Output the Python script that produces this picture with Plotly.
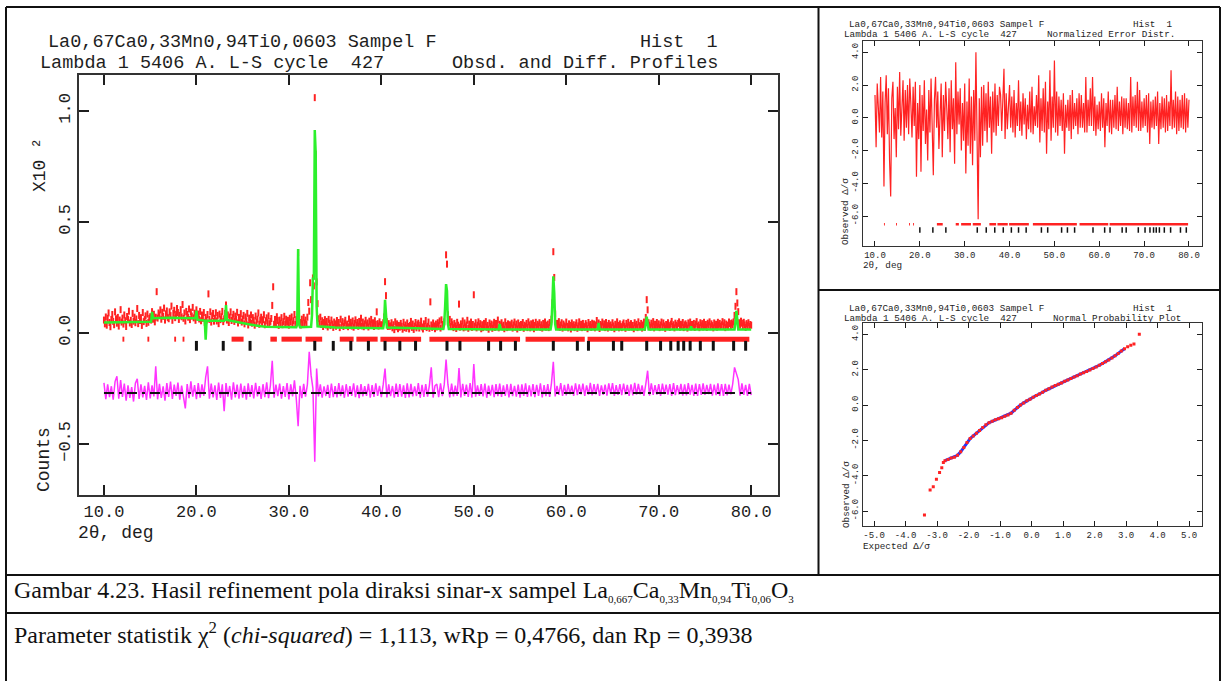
import plotly.graph_objects as go

W, H = 1223, 681

# ------------------------------------------------------------------ data
# Main panel (units of the plotted axis, x10^2 counts, stored in thousandths)
obs_start, obs_step = 10.0, 0.1
obs_milli = [
    58, 41, 72, 35, 66, 90, 47, 28, 61, 83,      # 10
    52, 37, 95, 64, 44, 70, 31, 58, 105, 49,     # 11
    67, 40, 81, 55, 29, 74, 62, 98, 45, 57,      # 12
    38, 88, 53, 71, 46, 63, 110, 42, 79, 56,     # 13
    69, 34, 92, 51, 60, 77, 43, 85, 48, 66,      # 14
    73, 58, 96, 62, 84, 50, 71, 186, 67, 90,     # 15
    81, 104, 62, 93, 75, 112, 58, 86, 99, 70,    # 16
    64, 95, 78, 121, 57, 88, 102, 69, 84, 110,   # 17
    92, 61, 79, 105, 73, 128, 66, 90, 54, 97,    # 18
    83, 71, 108, 60, 94, 76, 115, 68, 89, 57,    # 19
    104, 72, 85, 63, 97, 55, 81, 66, 92, 48,     # 20
    70, 58, 83, 176, 61, 95, 49, 77, 88, 53,     # 21
    66, 91, 54, 79, 42, 85, 60, 73, 97, 51,      # 22
    64, 88, 126, 58, 81, 47, 72, 95, 56, 69,     # 23
    84, 52, 76, 61, 93, 45, 70, 58, 87, 49,      # 24
    63, 79, 41, 72, 55, 88, 36, 67, 50, 81,      # 25
    44, 69, 57, 35, 76, 48, 62, 90, 39, 58,      # 26
    71, 43, 60, 82, 37, 55, 68, 46, 77, 41,      # 27
    52, 65, 124, 208, 39, 61, 47, 73, 56, 34,    # 28
    58, 43, 69, 37, 51, 75, 40, 62, 48, 57,      # 29
    35, 66, 49, 72, 41, 55, 83, 38, 60, 46,      # 30
    362, 88, 47, 36, 62, 41, 70, 45, 58, 39,     # 31
    71, 137, 98, 226, 150, 118, 248, 212, 1060, 805,  # 32
    230, 132, 64, 42, 71, 38, 55, 29, 47, 60,    # 33
    36, 52, 27, 61, 44, 33, 58, 40, 25, 49,      # 34
    41, 30, 56, 38, 47, 24, 62, 35, 51, 29,      # 35
    45, 57, 33, 40, 28, 63, 37, 48, 31, 54,      # 36
    26, 43, 59, 35, 47, 30, 52, 38, 66, 32,      # 37
    49, 28, 41, 57, 36, 45, 27, 53, 39, 61,      # 38
    34, 46, 29, 55, 38, 95, 42, 31, 50, 36,      # 39
    37, 33, 46, 72, 231, 168, 51, 29, 42, 30,    # 40
    32, 46, 23, 37, 15, 50, 28, 41, 19, 34,      # 41
    26, 43, 30, 17, 48, 24, 36, 21, 45, 29,      # 42
    18, 34, 52, 25, 40, 16, 31, 47, 23, 37,      # 43
    44, 22, 35, 53, 27, 18, 41, 29, 56, 24,      # 44
    30, 49, 21, 140, 36, 25, 45, 32, 19, 40,     # 45
    27, 46, 33, 54, 22, 59, 38, 31, 50, 118,     # 46
    352, 310, 82, 46, 61, 29, 50, 37, 24, 43,    # 47
    32, 20, 48, 35, 130, 26, 41, 29, 54, 23,     # 48
    45, 27, 36, 57, 21, 40, 32, 49, 25, 38,      # 49
    172, 31, 46, 23, 35, 50, 28, 42, 19, 37,     # 50
    24, 43, 30, 51, 26, 34, 17, 45, 29, 40,      # 51
    21, 36, 48, 25, 43, 30, 58, 23, 39, 32,      # 52
    46, 27, 35, 19, 50, 33, 24, 41, 28, 37,      # 53
    31, 44, 22, 36, 49, 26, 40, 18, 45, 33,      # 54
    25, 38, 32, 47, 21, 35, 29, 43, 24, 50,      # 55
    36, 23, 41, 30, 45, 19, 34, 48, 27, 39,      # 56
    32, 46, 25, 37, 22, 43, 31, 49, 26, 35,      # 57
    40, 24, 47, 33, 62, 136, 366, 250, 86, 34,   # 58
    43, 28, 51, 25, 36, 46, 22, 40, 32, 27,      # 59
    49, 30, 23, 41, 34, 18, 45, 29, 37, 24,      # 60
    35, 46, 21, 32, 50, 27, 39, 24, 43, 30,      # 61
    26, 42, 33, 19, 47, 31, 38, 25, 44, 34,      # 62
    40, 23, 36, 56, 29, 45, 20, 38, 32, 49,      # 63
    28, 41, 24, 47, 33, 22, 43, 30, 36, 25,      # 64
    46, 32, 19, 39, 27, 50, 34, 23, 41, 29,      # 65
    24, 37, 45, 30, 21, 43, 28, 48, 26, 35,      # 66
    42, 27, 34, 19, 46, 31, 39, 24, 50, 33,      # 67
    29, 43, 22, 36, 49, 25, 70, 150, 104, 46,    # 68
    35, 26, 44, 30, 51, 23, 39, 32, 47, 28,      # 69
    41, 24, 36, 49, 27, 45, 32, 21, 38, 30,      # 70
    46, 33, 25, 40, 52, 29, 37, 23, 44, 35,      # 71
    28, 43, 50, 26, 39, 32, 47, 24, 36, 41,      # 72
    33, 22, 45, 31, 49, 27, 38, 34, 43, 25,      # 73
    40, 51, 29, 36, 24, 46, 32, 42, 27, 48,      # 74
    31, 38, 25, 44, 35, 50, 28, 41, 33, 23,      # 75
    45, 30, 39, 26, 48, 34, 43, 29, 37, 51,      # 76
    32, 46, 24, 40, 35, 28, 49, 42, 31, 45,      # 77
    38, 50, 79, 120, 186, 135, 96, 46, 35, 53,   # 78
    44, 31, 48, 36, 25, 42, 33, 46, 29, 38,      # 79
    35,                                          # 80
]

calc_x = [10.0, 15.0, 15.1, 15.2, 15.3, 17.0, 19.5, 19.9, 20.0, 20.1, 20.9, 21.0, 21.1,
          23.0, 23.1, 23.2, 23.3, 24.0, 25.5, 27.0, 27.5, 30.8, 30.9, 31.0, 31.1, 31.2,
          32.4, 32.5, 32.6, 32.7, 32.8, 32.9, 33.0, 33.1, 35.0, 40.2, 40.3, 40.4, 40.5,
          40.6, 46.7, 46.8, 46.9, 47.0, 47.1, 47.2, 47.3, 52.7, 52.8, 52.9, 58.3, 58.4,
          58.5, 58.6, 58.7, 58.8, 58.9, 63.4, 63.5, 63.6, 68.5, 68.6, 68.7, 68.8, 68.9,
          73.4, 73.5, 73.6, 78.2, 78.3, 78.4, 78.5, 78.6, 80.0]
calc_milli = [47, 48, 50, 95, 66, 68, 68, 66, 100, 60, 56, -30, 55,
              55, 60, 126, 58, 52, 40, 30, 28, 26, 40, 378, 40, 26,
              28, 80, 250, 240, 914, 810, 120, 30, 24, 21, 50, 149, 90,
              24, 18, 40, 120, 220, 190, 40, 18, 16, 40, 16, 15, 40,
              140, 255, 180, 40, 15, 15, 45, 15, 15, 40, 73, 45, 15,
              15, 30, 15, 16, 50, 100, 60, 16, 15]

diff_start, diff_step = 10.0, 0.2
diff_milli = [
    -225, -298, -232, -289, -240,  # 10
    -301, -219, -195, -296, -212,  # 11
    -288, -228, -305, -236, -292,  # 12
    -244, -309, -226, -207, -297,  # 13
    -231, -290, -238, -302, -222,  # 14
    -295, -236, -286, -150, -299,  # 15
    -229, -293, -241, -305, -226,  # 16
    -288, -219, -297, -233, -284,  # 17
    -224, -301, -237, -289, -340,  # 18
    -230, -294, -218, -287, -235,  # 19
    -298, -226, -291, -232, -283,  # 20
    -200, -150, -296, -228, -290,  # 21
    -236, -302, -224, -293, -231,  # 22
    -352, -226, -287, -239, -300,  # 23
    -222, -290, -233, -296, -228,  # 24
    -291, -238, -301, -227, -288,  # 25
    -235, -295, -225, -286, -240,  # 26
    -297, -231, -289, -222, -294,  # 27
    -237, -125, -292, -233, -285,  # 28
    -228, -296, -240, -288, -226,  # 29
    -299, -232, -286, -214, -295,  # 30
    -420, -238, -294, -229, -287,  # 31
    -233, -85, -190, -250, -580,   # 32
    -160, -286, -232, -291, -241,  # 33
    -284, -234, -293, -228, -289,  # 34
    -239, -290, -226, -285, -236,  # 35
    -292, -231, -287, -240, -283,  # 36
    -227, -289, -236, -294, -230,  # 37
    -286, -240, -283, -229, -291,  # 38
    -235, -288, -227, -284, -238,  # 39
    -289, -233, -160, -290, -232,  # 40
    -285, -239, -291, -228, -288,  # 41
    -231, -287, -236, -293, -227,  # 42
    -290, -229, -286, -241, -284,  # 43
    -226, -292, -234, -288, -230,  # 44
    -287, -235, -155, -291, -238,  # 45
    -230, -289, -227, -285, -234,  # 46
    -120, -232, -290, -228, -286,  # 47
    -237, -284, -158, -290, -229,  # 48
    -283, -233, -288, -226, -291,  # 49
    -140, -287, -236, -283, -231,  # 50
    -286, -228, -292, -237, -282,  # 51
    -234, -289, -230, -285, -228,  # 52
    -288, -236, -283, -231, -290,  # 53
    -229, -285, -238, -287, -233,  # 54
    -291, -232, -284, -227, -288,  # 55
    -236, -286, -230, -289, -234,  # 56
    -283, -227, -290, -235, -285,  # 57
    -231, -288, -226, -130, -286,  # 58
    -238, -279, -226, -283, -234,  # 59
    -281, -229, -276, -237, -284,  # 60
    -227, -280, -232, -277, -228,  # 61
    -283, -236, -278, -225, -281,  # 62
    -231, -277, -229, -284, -236,  # 63
    -279, -233, -282, -227, -276,  # 64
    -226, -284, -235, -279, -230,  # 65
    -280, -228, -277, -234, -283,  # 66
    -232, -281, -225, -278, -229,  # 67
    -277, -236, -283, -230, -170,  # 68
    -282, -227, -279, -235, -278,  # 69
    -230, -284, -228, -276, -233,  # 70
    -278, -231, -283, -226, -280,  # 71
    -235, -277, -229, -282, -232,  # 72
    -281, -226, -278, -234, -284,  # 73
    -228, -283, -231, -279, -227,  # 74
    -279, -234, -276, -229, -282,  # 75
    -233, -280, -227, -284, -230,  # 76
    -284, -229, -281, -233, -277,  # 77
    -230, -155, -184, -210, -282,  # 78
    -227, -279, -234, -283, -229,  # 79
    -280,                          # 80
]
diff_zero_milli = -270
scan_end = 80.0

# reflection markers (2-theta)
refl_black = [20.0, 22.9, 25.8, 32.8, 34.8, 36.7, 38.6, 40.4, 42.0, 43.7, 47.1, 48.5,
              51.6, 52.9, 54.5, 58.6, 61.2, 62.4, 65.1, 66.0, 68.7, 70.2, 71.3, 72.1,
              72.7, 73.4, 74.5, 75.9, 78.1, 79.4]
refl_red_ranges = [[12.0, 12.2], [14.7, 14.9], [17.6, 17.8], [18.5, 18.7], [23.8, 25.1],
                   [28.0, 28.7], [29.2, 31.4], [31.8, 33.6], [35.5, 37.0], [37.3, 39.6],
                   [39.9, 44.3], [45.2, 55.0], [55.6, 62.0], [62.3, 79.8]]
refl_row_milli = {"red": -28, "black": -58}

# Normalized error distribution (delta/sigma), 0.25 deg steps
norm_start, norm_step = 10.0, 0.25
norm_err = [
    1.4, -1.8, 2.1, 0.2,    # 10
    -0.9, 2.5, -1.2, 1.6,   # 11
    -4.2, 0.9, 2.6, -1.0,   # 12
    1.8, -2.6, -4.8, 1.2,   # 13
    2.2, -1.3, 0.6, -2.4,   # 14
    1.9, -0.7, 2.8, -1.1,   # 15
    0.4, 2.3, -1.4, 1.7,    # 16
    -0.6, 2.0, -1.0, 2.4,   # 17
    0.8, -1.2, 1.9, -0.5,   # 18
    2.2, -3.6, 0.9, -1.3,   # 19
    2.0, -3.3, 1.4, -0.8,   # 20
    2.3, -1.6, 0.5, -2.6,   # 21
    1.7, -0.9, 2.4, -1.5,   # 22
    -3.5, 1.1, 2.5, -0.6,   # 23
    1.6, -1.9, 0.7, 2.1,    # 24
    -2.4, 1.4, -0.8, 2.2,   # 25
    0.6, -1.3, 1.8, -2.1,   # 26
    2.3, -0.7, 1.2, -2.8,   # 27
    3.4, -1.0, 1.6, -0.4,   # 28
    1.8, -2.0, 0.9, -1.4,   # 29
    2.1, -3.4, 1.0, -1.7,   # 30
    2.4, -2.2, 1.3, -2.9,   # 31
    1.7, -1.4, 4.0, -2.6,   # 32
    -6.2, 1.2, -2.4, 1.9,   # 33
    -1.7, 2.0, -0.8, 1.5,   # 34
    -1.5, 2.2, -0.6, 1.3,   # 35
    -2.2, 1.6, -0.9, 2.1,   # 36
    -1.1, 1.4, -0.5, 1.9,   # 37
    1.4, -0.8, 1.2, 3.0,    # 38
    -1.3, 1.5, -0.7, 1.1,   # 39
    2.0, -0.6, 1.3, -0.9,   # 40
    1.7, -1.2, 0.9, -0.5,   # 41
    2.3, -0.8, 1.0, -1.1,   # 42
    1.5, -0.4, 1.2, -1.3,   # 43
    0.8, -0.7, 1.6, -0.9,   # 44
    1.9, -1.0, 0.7, -0.5,   # 45
    1.4, -0.6, 2.6, -1.5,   # 46
    1.2, -0.8, 1.8, -0.9,   # 47
    2.2, -2.2, 1.0, -0.7,   # 48
    2.9, -1.4, 1.3, -0.6,   # 49
    3.5, -0.9, 1.6, -1.1,   # 50
    1.3, -0.5, 1.1, -0.8,   # 51
    1.5, -2.2, 0.8, -0.6,   # 52
    1.1, -0.8, 1.4, -1.3,   # 53
    1.7, -0.7, 0.9, -0.5,   # 54
    1.2, -1.0, 1.5, -0.6,   # 55
    1.4, -0.6, 0.9, -0.9,   # 56
    2.5, -0.9, 1.1, -0.5,   # 57
    1.8, -0.5, 2.5, -0.8,   # 58
    1.3, -1.1, 0.8, -0.7,   # 59
    1.0, -0.8, 1.5, -0.6,   # 60
    1.2, -1.8, 0.9, -0.5,   # 61
    1.6, -0.9, 1.1, -1.0,   # 62
    1.1, -0.6, 1.4, -0.7,   # 63
    1.9, -0.8, 1.0, -0.5,   # 64
    1.3, -1.0, 1.2, -0.6,   # 65
    1.2, -0.7, 0.9, -0.8,   # 66
    2.5, -0.9, 1.3, -0.5,   # 67
    1.4, -0.6, 2.2, -0.8,   # 68
    1.7, -0.8, 1.0, -0.6,   # 69
    1.2, -0.5, 1.4, -0.9,   # 70
    1.5, -1.6, 1.0, -0.6,   # 71
    1.1, -0.7, 1.3, -0.5,   # 72
    1.6, -1.6, 0.9, -0.7,   # 73
    1.3, -0.6, 1.2, -0.9,   # 74
    1.4, -0.8, 1.0, -0.5,   # 75
    2.9, -0.7, 1.1, -0.6,   # 76
    1.6, -1.0, 1.3, -0.8,   # 77
    1.1, -0.6, 1.4, -0.7,   # 78
    1.5, -0.9, 1.2, -0.6,   # 79
    1.1,                    # 80
]
norm_refl_row = {"red": -6.5, "black": -6.85}

# Normal probability plot
prob_expected = [-3.40, -3.22, -3.12, -3.02, -2.92, -2.85, -2.80, -2.75, -2.65, -2.55,
                 -2.45, -2.35, -2.25, -2.15, -2.05, -1.95, -1.85, -1.75, -1.65, -1.55,
                 -1.45, -1.35, -1.25, -1.15, -1.05, -0.95, -0.85, -0.75, -0.65, -0.55,
                 -0.45, -0.35, -0.25, -0.15, -0.05, 0.05, 0.15, 0.25, 0.35, 0.45,
                 0.55, 0.65, 0.75, 0.85, 0.95, 1.05, 1.15, 1.25, 1.35, 1.45,
                 1.55, 1.65, 1.75, 1.85, 1.95, 2.05, 2.15, 2.25, 2.35, 2.45,
                 2.55, 2.65, 2.75, 2.85, 2.95, 3.05, 3.15, 3.25, 3.42]
prob_observed = [-6.23, -4.81, -4.62, -4.20, -3.82, -3.55, -3.25, -3.15, -3.08, -3.00,
                 -2.95, -2.85, -2.65, -2.40, -2.12, -1.90, -1.75, -1.60, -1.45, -1.27,
                 -1.12, -1.00, -0.92, -0.84, -0.78, -0.72, -0.64, -0.56, -0.46, -0.30,
                 -0.14, 0.00, 0.12, 0.24, 0.33, 0.44, 0.54, 0.62, 0.72, 0.83,
                 0.92, 1.02, 1.10, 1.18, 1.25, 1.34, 1.42, 1.50, 1.58, 1.66,
                 1.75, 1.83, 1.90, 1.98, 2.07, 2.15, 2.25, 2.35, 2.45, 2.55,
                 2.66, 2.78, 2.92, 3.05, 3.18, 3.30, 3.38, 3.45, 4.00]
prob_blue_first, prob_blue_last = 7, 64   # index span drawn in blue

# tick labels
main_xticks = [10, 20, 30, 40, 50, 60, 70, 80]
main_xtext = ["10.0", "20.0", "30.0", "40.0", "50.0", "60.0", "70.0", "80.0"]
main_yticks = [1.0, 0.5, 0.0, -0.5]
main_ytext = ["1.0", "0.5", "0.0", "\u22120.5"]
norm_yticks = [4, 2, 0, -2, -4, -6]
norm_ytext = ["4.0", "2.0", "0.0", "-2.0", "-4.0", "-6.0"]
prob_xticks = [-5, -4, -3, -2, -1, 0, 1, 2, 3, 4, 5]
prob_xtext = ["-5.0", "-4.0", "-3.0", "-2.0", "-1.0", "0.0", "1.0", "2.0", "3.0", "4.0", "5.0"]

# ------------------------------------------------------------------ helpers
def px(x):
    return x / W


def py(y):
    return 1 - y / H


MONO = "Liberation Mono"
SERIF = "Liberation Serif"
INK = "#1e1e1e"
RED = "#ff2222"
GREEN = "#2cf02c"
MAGENTA = "#ff33ff"


def segs(ranges, yval):
    xs, ys = [], []
    for a, b in ranges:
        xs += [a, b, None]
        ys += [yval, yval, None]
    return xs, ys


fig = go.Figure()

# ---------------- main panel
fig.add_trace(go.Scatter(x0=obs_start, dx=obs_step, y=[v / 1000 for v in obs_milli],
                         mode="markers", xaxis="x", yaxis="y",
                         marker=dict(symbol="line-ns", size=5,
                                     line=dict(width=2, color=RED), color=RED)))
fig.add_trace(go.Scatter(x=calc_x, y=[v / 1000 for v in calc_milli], mode="lines",
                         xaxis="x", yaxis="y", line=dict(color=GREEN, width=2.5)))
rx, ry = segs(refl_red_ranges, refl_row_milli["red"] / 1000)
fig.add_trace(go.Scatter(x=rx, y=ry, mode="lines", xaxis="x", yaxis="y",
                         line=dict(color=RED, width=5)))
fig.add_trace(go.Scatter(x=refl_black, y=[refl_row_milli["black"] / 1000] * len(refl_black),
                         mode="markers", xaxis="x", yaxis="y",
                         marker=dict(symbol="line-ns", size=7,
                                     line=dict(width=3, color="#111"), color="#111")))
fig.add_trace(go.Scatter(x0=diff_start, dx=diff_step, y=[v / 1000 for v in diff_milli],
                         mode="lines", xaxis="x", yaxis="y",
                         line=dict(color=MAGENTA, width=1.5)))
fig.add_trace(go.Scatter(x=[diff_start, scan_end], y=[diff_zero_milli / 1000] * 2,
                         mode="lines", xaxis="x", yaxis="y",
                         line=dict(color="#111", width=2, dash="10px,5px,3px,5px")))

# ---------------- normalized error panel
fig.add_trace(go.Scatter(x0=norm_start, dx=norm_step, y=norm_err, mode="lines",
                         xaxis="x2", yaxis="y2", line=dict(color=RED, width=1.2)))
nx, ny = segs(refl_red_ranges, norm_refl_row["red"])
fig.add_trace(go.Scatter(x=nx, y=ny, mode="lines", xaxis="x2", yaxis="y2",
                         line=dict(color=RED, width=2.5)))
fig.add_trace(go.Scatter(x=refl_black, y=[norm_refl_row["black"]] * len(refl_black),
                         mode="markers", xaxis="x2", yaxis="y2",
                         marker=dict(symbol="line-ns", size=4,
                                     line=dict(width=1.5, color="#111"), color="#111")))

# ---------------- normal probability panel
fig.add_trace(go.Scatter(x=prob_expected[prob_blue_first:prob_blue_last + 1],
                         y=prob_observed[prob_blue_first:prob_blue_last + 1],
                         mode="lines", xaxis="x3", yaxis="y3",
                         line=dict(color="#2233ff", width=3)))
fig.add_trace(go.Scatter(x=prob_expected, y=prob_observed, mode="markers",
                         xaxis="x3", yaxis="y3",
                         marker=dict(color=RED, size=3, symbol="square")))

# ---------------- axes
axis_common = dict(showline=True, mirror="ticks", ticks="inside", showgrid=False,
                   zeroline=False, linecolor="#333", color=INK)

layout_axes = dict(
    xaxis=dict(axis_common, domain=[px(79), px(778)], range=[7.3, 82.9], anchor="y",
               tickvals=main_xticks, ticktext=main_xtext, ticklen=10, tickwidth=2,
               linewidth=2, tickfont=dict(family=MONO, size=17, color=INK)),
    yaxis=dict(axis_common, domain=[py(495), py(75)], range=[-0.73, 1.162], anchor="x",
               tickvals=main_yticks, ticktext=main_ytext, ticklen=10, tickwidth=2,
               linewidth=2, tickangle=-90, tickfont=dict(family=MONO, size=17, color=INK)),
    xaxis2=dict(axis_common, domain=[px(862.7), px(1202)], range=[7.26, 82.9],
                anchor="y2", tickvals=main_xticks, ticktext=main_xtext, ticklen=5,
                tickwidth=1, linewidth=1.2, tickfont=dict(family=MONO, size=9, color=INK)),
    yaxis2=dict(axis_common, domain=[py(245.7), py(40.7)], range=[-7.81, 4.71],
                anchor="x2", tickvals=norm_yticks, ticktext=norm_ytext, ticklen=5,
                tickwidth=1, linewidth=1.2, tickangle=-90,
                tickfont=dict(family=MONO, size=9, color=INK)),
    xaxis3=dict(axis_common, domain=[px(862.7), px(1202)], range=[-5.36, 5.41],
                anchor="y3", tickvals=prob_xticks, ticktext=prob_xtext, ticklen=5,
                tickwidth=1, linewidth=1.2, tickfont=dict(family=MONO, size=9, color=INK)),
    yaxis3=dict(axis_common, domain=[py(525.7), py(323)], range=[-6.83, 4.64],
                anchor="x3", tickvals=norm_yticks, ticktext=norm_ytext, ticklen=5,
                tickwidth=1, linewidth=1.2, tickangle=-90,
                tickfont=dict(family=MONO, size=9, color=INK)),
)


def ann(text, x, y, size, family=MONO, xanchor="left", angle=0, color=INK):
    return dict(text=text, x=px(x), y=py(y), xref="paper", yref="paper",
                showarrow=False, xanchor=xanchor, yanchor="middle", textangle=angle,
                font=dict(family=family, size=size, color=color))


def small_sub(t):
    return "<sub><span style='font-size:11px'>" + t + "</span></sub>"


head1 = "La0,67Ca0,33Mn0,94Ti0,0603 Sampel F"
head2 = "Lambda 1 5406 A. L-S cycle  427"
caption1 = ("Gambar 4.23. Hasil refinement pola diraksi sinar-x sampel "
            "La" + small_sub("0,667") + "Ca" + small_sub("0,33") + "Mn" + small_sub("0,94")
            + "Ti" + small_sub("0,06") + "O" + small_sub("3"))
caption2 = ("Parameter statistik \u03c7<sup>2</sup> (<i>chi-squared</i>) = 1,113, "
            "wRp = 0,4766, dan Rp = 0,3938")

SMALL = 9.3
annotations = [
    # main panel
    ann(head1, 46, 42, 18.5),
    ann("Hist  1", 720, 42, 18.5, xanchor="right"),
    ann(head2, 38, 64, 18.5),
    ann("Obsd. and Diff. Profiles", 720, 64, 18.5, xanchor="right"),
    ann("X10 \u00b2", 40, 165, 18, xanchor="center", angle=-90),
    ann("Counts", 44, 460, 18, xanchor="center", angle=-90),
    ann("2\u03b8, deg", 76, 533, 18),
    # normalized error panel
    ann(head1, 847, 24, SMALL),
    ann("Hist  1", 1174, 24, SMALL, xanchor="right"),
    ann(head2, 842, 35, SMALL),
    ann("Normalized Error Distr.", 1177, 35, SMALL, xanchor="right"),
    ann("Observed \u0394/\u03c3", 846, 212, SMALL, xanchor="center", angle=-90),
    ann("2\u03b8, deg", 861, 266, SMALL),
    # probability panel
    ann(head1, 847, 308, SMALL),
    ann("Hist  1", 1174, 308, SMALL, xanchor="right"),
    ann(head2, 842, 318.5, SMALL),
    ann("Normal Probability Plot", 1183, 318.5, SMALL, xanchor="right"),
    ann("Observed \u0394/\u03c3", 846, 495, SMALL, xanchor="center", angle=-90),
    ann("Expected \u0394/\u03c3", 861, 546, SMALL),
    # captions
    ann(caption1, 12, 591, 24, family=SERIF, color="#111"),
    ann(caption2, 12, 633, 24, family=SERIF, color="#111"),
]


def hline(y, x0, x1):
    return dict(type="line", xref="paper", yref="paper", x0=px(x0), x1=px(x1),
                y0=py(y), y1=py(y), line=dict(color="#111", width=2))


def vline(x, y0, y1):
    return dict(type="line", xref="paper", yref="paper", x0=px(x), x1=px(x),
                y0=py(y0), y1=py(y1), line=dict(color="#111", width=2))


shapes = [
    hline(7, 6, 1220),
    vline(6, 7, 681),
    vline(1220, 7, 681),
    vline(818.5, 7, 575),
    hline(290, 818.5, 1220),
    hline(575, 6, 1220),
    hline(613, 6, 1220),
]

fig.update_layout(
    width=W, height=H, margin=dict(l=0, r=0, t=0, b=0),
    paper_bgcolor="white", plot_bgcolor="white", showlegend=False,
    annotations=annotations, shapes=shapes, **layout_axes,
)

fig.write_html("out.html")
